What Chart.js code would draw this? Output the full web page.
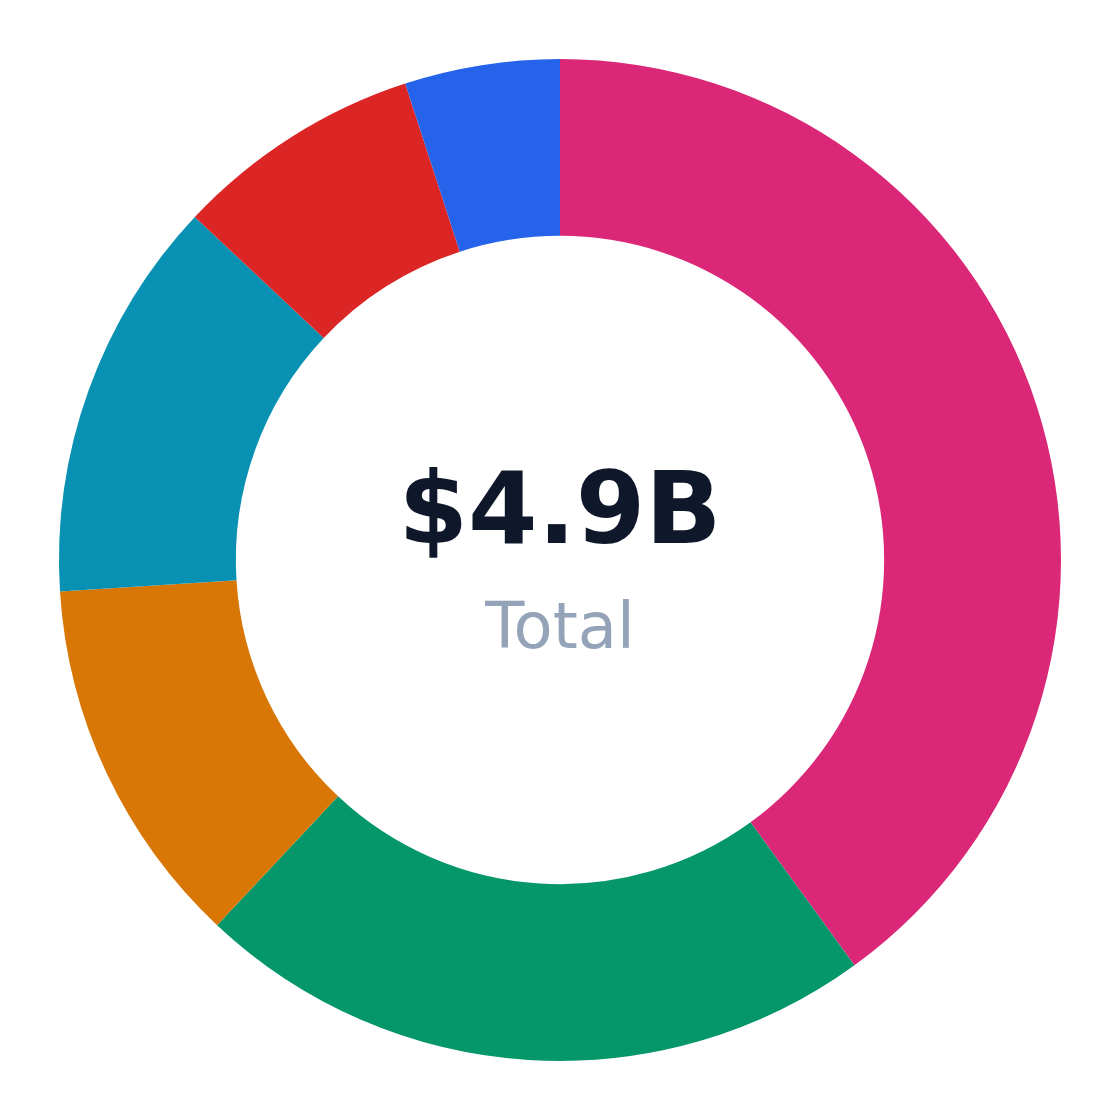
<!DOCTYPE html>
<html>
<head>
<meta charset="utf-8">
<script src="https://cdn.jsdelivr.net/npm/chart.js@4"></script>
<style>
  html, body { margin: 0; padding: 0; background: #fff; }
  #wrap { width: 1120px; height: 1120px; }
</style>
</head>
<body>
<div id="wrap"><canvas id="chart"></canvas></div>
<script>
const labels = ['Segment A', 'Segment B', 'Segment C', 'Segment D', 'Segment E', 'Segment F'];
const values = [1.96, 1.078, 0.588, 0.637, 0.392, 0.245]; // $B
const colors = ['#db2777', '#059669', '#d97706', '#0891b2', '#dc2626', '#2563eb'];
const centerValue = '$4.9B';
const centerLabel = 'Total';

const centerText = {
    id: 'centerText',
    afterDraw(chart) {
        const ctx = chart.ctx;
        const arc = chart.getDatasetMeta(0).data[0];
        const cx = arc.x, cy = arc.y;
        ctx.save();
        ctx.textAlign = 'center';
        ctx.textBaseline = 'alphabetic';
        ctx.fillStyle = '#0f172a';
        ctx.font = 'bold 100px "DejaVu Sans"';
        ctx.fillText(centerValue, cx, cy - 17);
        ctx.fillStyle = '#94a3b8';
        ctx.font = '64px "DejaVu Sans"';
        ctx.fillText(centerLabel, cx, cy + 88);
        ctx.restore();
    }
};

new Chart(document.getElementById('chart'), {
    type: 'doughnut',
    data: {
        labels: labels,
        datasets: [{
            data: values,
            backgroundColor: colors,
            borderWidth: 0
        }]
    },
    options: {
        responsive: true,
        maintainAspectRatio: false,
        animation: false,
        cutout: '64.7%',
        layout: { padding: 59 },
        plugins: {
            legend: { display: false },
            tooltip: { enabled: false }
        }
    },
    plugins: [centerText]
});
</script>
</body>
</html>
